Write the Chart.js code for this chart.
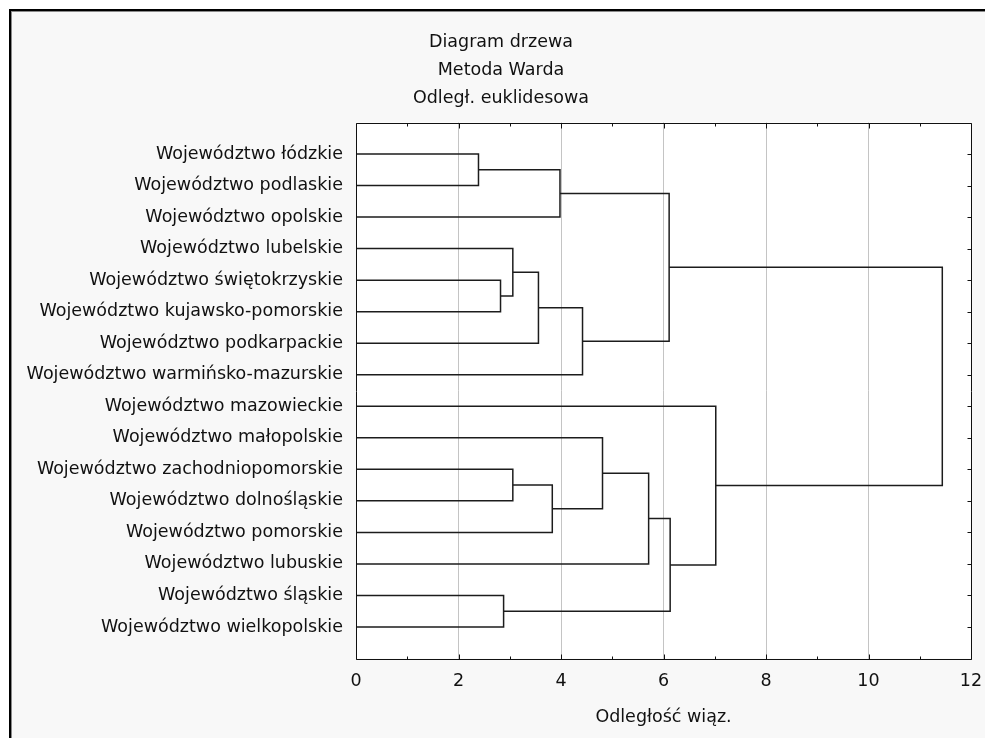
<!DOCTYPE html>
<html><head><meta charset="utf-8">
<script src="https://cdn.jsdelivr.net/npm/chart.js@4.4.1/dist/chart.umd.min.js"></script>
<style>
html,body{margin:0;padding:0;background:#fff;overflow:hidden;}
#frame{position:absolute;left:9px;top:9px;width:1000px;height:760px;background:#f8f8f8;border-top:2px solid #000;border-left:2px solid #000;box-shadow:inset 1px 1px 0 #8a8a8a;}
#c{position:absolute;left:0;top:0;}
</style></head><body>
<div id="frame"></div>
<canvas id="c" width="985" height="738"></canvas>
<script>
// ---- data ----
const titleLines = ['Diagram drzewa', 'Metoda Warda', 'Odległ. euklidesowa'];
const xAxisTitle = 'Odległość wiąz.';
const xTickValues = [0, 2, 4, 6, 8, 10, 12];
const leafLabels = [
  'Województwo łódzkie',
  'Województwo podlaskie',
  'Województwo opolskie',
  'Województwo lubelskie',
  'Województwo świętokrzyskie',
  'Województwo kujawsko-pomorskie',
  'Województwo podkarpackie',
  'Województwo warmińsko-mazurskie',
  'Województwo mazowieckie',
  'Województwo małopolskie',
  'Województwo zachodniopomorskie',
  'Województwo dolnośląskie',
  'Województwo pomorskie',
  'Województwo lubuskie',
  'Województwo śląskie',
  'Województwo wielkopolskie'
];
// node ids 0..15 are leaves; merge k creates node 16+k
const mergeA = [0, 16, 4, 3, 19, 20, 17, 10, 23, 9, 25, 14, 26, 8, 22];
const mergeB = [1, 2, 5, 18, 6, 7, 21, 11, 12, 24, 13, 15, 27, 28, 29];
const mergeHeight = [2.39, 3.98, 2.82, 3.06, 3.56, 4.42, 6.11, 3.06, 3.83, 4.81, 5.71, 2.88, 6.13, 7.02, 11.44];

// ---- build tree geometry in data space ----
const nodeY = leafLabels.map((_, i) => i + 1);
const nodeH = leafLabels.map(() => 0);
const datasets = [];
mergeA.forEach((a, k) => {
  const b = mergeB[k], h = mergeHeight[k];
  nodeY.push((nodeY[a] + nodeY[b]) / 2);
  nodeH.push(h);
  datasets.push({
    data: [
      {x: nodeH[a], y: nodeY[a]},
      {x: h, y: nodeY[a]},
      {x: h, y: nodeY[b]},
      {x: nodeH[b], y: nodeY[b]}
    ],
    showLine: true,
    borderColor: '#1c1c1c',
    borderWidth: 1.5,
    pointRadius: 0,
    fill: false,
    tension: 0
  });
});

const FONT = "'DejaVu Sans', sans-serif";
const TXT = '#111';

const framePlugin = {
  id: 'plotFrame',
  beforeDraw(chart) {
    const {ctx, chartArea: a} = chart;
    ctx.save();
    ctx.fillStyle = '#ffffff';
    ctx.fillRect(a.left, a.top, a.right - a.left, a.bottom - a.top);
    ctx.restore();
  },
  afterDatasetsDraw(chart) {
    const {ctx, chartArea: a, scales} = chart;
    const xs = scales.x, ys = scales.y;
    const L = Math.round(a.left) + 0.5, R = Math.round(a.right) + 0.5;
    const T = Math.round(a.top) + 0.5, B = Math.round(a.bottom) + 0.5;
    ctx.save();
    ctx.strokeStyle = '#111';
    ctx.lineWidth = 1;
    ctx.beginPath();
    ctx.rect(L, T, R - L, B - T);
    for (let v = xs.min; v <= xs.max; v += 1) {
      const px = Math.round(xs.getPixelForValue(v)) + 0.5;
      const len = (v % 2 === 0) ? 5 : 3;
      ctx.moveTo(px, T); ctx.lineTo(px, T + len);
      ctx.moveTo(px, B); ctx.lineTo(px, B - len);
    }
    for (let i = 1; i <= leafLabels.length; i++) {
      const py = Math.round(ys.getPixelForValue(i)) + 0.5;
      ctx.moveTo(R, py); ctx.lineTo(R - 4, py);
    }
    ctx.stroke();
    ctx.restore();
  }
};

new Chart(document.getElementById('c'), {
  type: 'scatter',
  data: {datasets},
  options: {
    responsive: false,
    devicePixelRatio: 1,
    animation: false,
    events: [],
    layout: {padding: {left: 17, right: 0, top: 0, bottom: 0}},
    plugins: {
      legend: {display: false},
      tooltip: {enabled: false},
      title: {
        display: true,
        text: titleLines,
        color: TXT,
        font: {family: FONT, size: 17.5, weight: 'normal', lineHeight: 1.6},
        padding: {top: 28, bottom: 10.5}
      }
    },
    scales: {
      x: {
        type: 'linear',
        position: 'bottom',
        min: 0, max: 12,
        afterBuildTicks(s) { s.ticks = xTickValues.map(v => ({value: v})); },
        ticks: {
          color: TXT,
          font: {family: FONT, size: 17.5},
          padding: 12.5,
          maxRotation: 0,
          autoSkip: false
        },
        grid: {
          drawTicks: false,
          lineWidth: 1,
          color: c => (c.tick && (c.tick.value === 0 || c.tick.value === 12)) ? 'rgba(0,0,0,0)' : '#c4c4c4'
        },
        border: {display: false},
        title: {
          display: true,
          text: xAxisTitle,
          color: TXT,
          font: {family: FONT, size: 17.5},
          padding: {top: 0, bottom: 10}
        },
        afterFit(s) { s.height = 79.5; s.paddingLeft = 0; s.paddingRight = 14; }
      },
      y: {
        type: 'linear',
        position: 'left',
        reverse: true,
        min: 0, max: leafLabels.length + 1,
        afterBuildTicks(s) { s.ticks = leafLabels.map((_, i) => ({value: i + 1})); },
        ticks: {
          color: TXT,
          font: {family: FONT, size: 17.5},
          padding: 13,
          autoSkip: false,
          callback: v => leafLabels[v - 1] || ''
        },
        grid: {display: false, drawTicks: false},
        border: {display: false},
        afterFit(s) { s.width = 339; s.paddingTop = 0; s.paddingBottom = 0; }
      }
    }
  },
  plugins: [framePlugin]
});
</script>
</body></html>
